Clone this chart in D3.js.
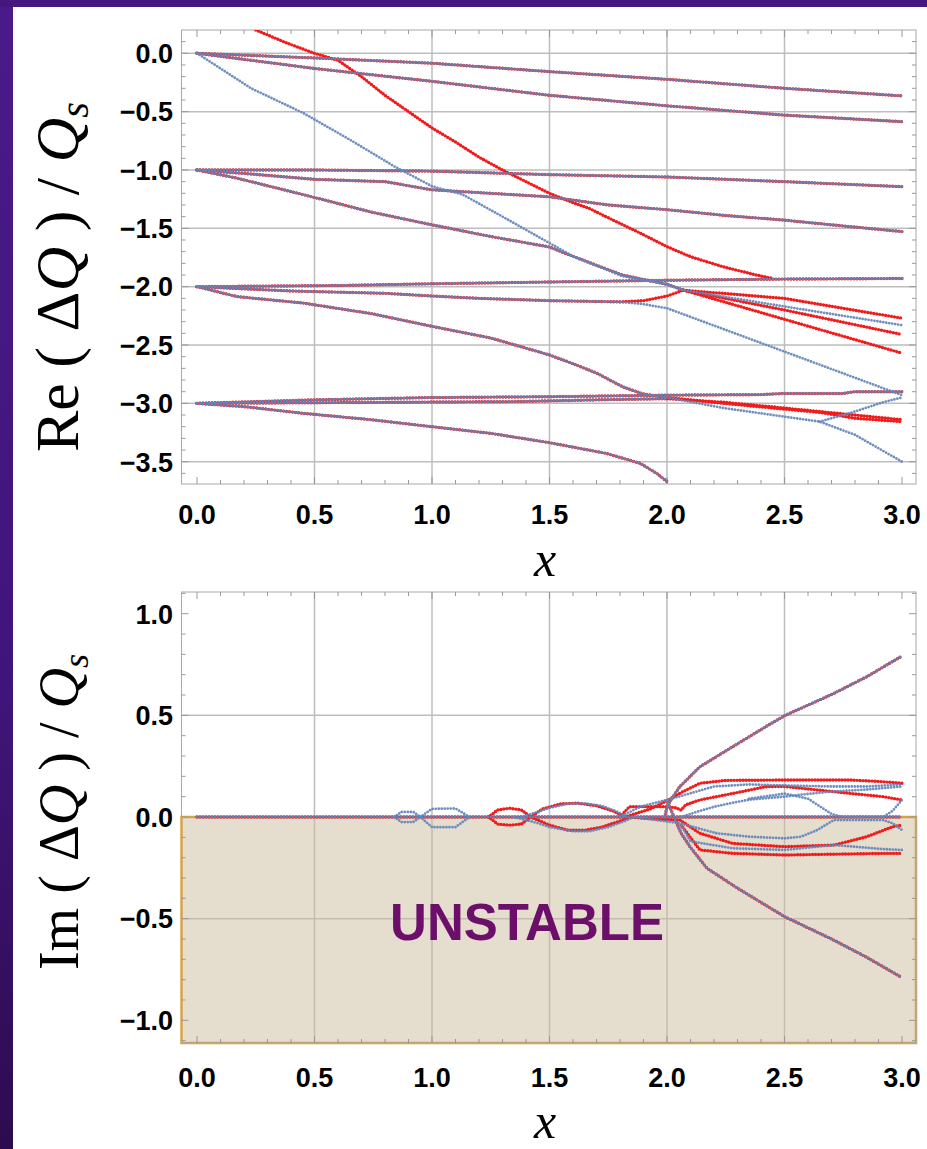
<!DOCTYPE html>
<html>
<head>
<meta charset="utf-8">
<script src="https://cdn.jsdelivr.net/npm/d3@7"></script>
<style>
  body { margin: 0; background: #fff; }
  svg { display: block; }
</style>
</head>
<body>
<svg id="chart" width="927" height="1149"></svg>
<script>
// ---------- axis ticks ----------
const xTicks = [0, 0.5, 1, 1.5, 2, 2.5, 3];
const xGrid = [0.5, 1, 1.5, 2, 2.5];
const reTicks = [0, -0.5, -1, -1.5, -2, -2.5, -3, -3.5];
const reGrid = [0, -0.5, -1, -1.5, -2, -2.5, -3, -3.5];
const imTicks = [1, 0.5, 0, -0.5, -1];
const imGrid = [0.5, 0, -0.5];

// ---------- Re(ΔQ)/Qs : curves common to both models ----------
const reShared = [
  [[0,0],[0.5,-0.04],[1,-0.085],[1.5,-0.157],[2,-0.223],[2.5,-0.30],[3,-0.365]],
  [[0,0],[0.5,-0.13],[1,-0.24],[1.5,-0.36],[2,-0.45],[2.5,-0.53],[3,-0.586]],
  [[0,-1],[0.5,-1.0],[1,-1.01],[1.5,-1.04],[2,-1.06],[2.5,-1.10],[3,-1.143]],
  [[0,-1],[0.2,-1.03],[0.5,-1.08],[0.8,-1.1],[1,-1.17],[1.5,-1.23],[1.75,-1.3],[2,-1.34],[2.25,-1.39],[2.5,-1.43],[2.7,-1.47],[3,-1.528]],
  [[0,-1],[0.17,-1.07],[0.45,-1.21],[0.74,-1.36],[1,-1.47],[1.25,-1.57],[1.5,-1.66],[1.6,-1.74],[1.81,-1.9],[2,-1.98],[2.07,-2.03]],
  [[0,-2],[0.6,-1.99],[1,-1.975],[1.5,-1.96],[2,-1.945],[2.5,-1.935],[3,-1.93]],
  [[0,-2],[0.4,-2.037],[0.8,-2.057],[1,-2.08],[1.2,-2.1],[1.5,-2.12],[1.8,-2.13]],
  [[0,-2],[0.17,-2.085],[0.45,-2.14],[0.74,-2.23],[1,-2.34],[1.25,-2.44],[1.5,-2.585],[1.6,-2.66],[1.7,-2.74],[1.81,-2.857],[1.9,-2.92],[2,-2.95]],
  [[0,-3],[0.5,-2.97],[1,-2.95],[1.5,-2.943],[2,-2.93],[2.4,-2.925],[2.5,-2.915],[2.75,-2.915],[2.8,-2.9],[3,-2.9]],
  [[0,-3],[1.35,-2.985],[1.7,-2.97],[2,-2.96]],
  [[0,-3],[0.21,-3.03],[0.45,-3.085],[0.74,-3.14],[1,-3.2],[1.25,-3.257],[1.5,-3.337],[1.74,-3.428],[1.885,-3.513],[1.956,-3.6],[2,-3.67]]
];
// branches seen only in the red model
const reRed = [
  [[0.25,0.2],[0.38,0.09],[0.5,0],[0.6,-0.06],[0.7,-0.2],[0.8,-0.36],[0.9,-0.5],[1,-0.64],[1.1,-0.76],[1.2,-0.89],[1.3,-1],[1.4,-1.1],[1.5,-1.2],[1.6,-1.28],[1.67,-1.33],[1.74,-1.4],[1.885,-1.54],[2,-1.657],[2.1,-1.743],[2.24,-1.83],[2.38,-1.9],[2.45,-1.93]],
  [[1.8,-2.13],[1.9,-2.12],[2,-2.08],[2.07,-2.03],[2.5,-2.2],[3,-2.41]],
  [[2.07,-2.03],[2.5,-2.1],[3,-2.27]],
  [[2.07,-2.03],[2.5,-2.28],[3,-2.57]],
  [[2,-2.95],[2.24,-3.0],[2.45,-3.04],[2.66,-3.08],[2.8,-3.128],[3,-3.157]],
  [[2,-2.96],[2.24,-2.99],[2.45,-3.03],[2.8,-3.1],[3,-3.14]]
];
// branches seen only in the blue model
const reBlue = [
  [[0,0],[0.23,-0.3],[0.45,-0.51],[0.65,-0.74],[0.84,-0.97],[1,-1.14],[1.13,-1.21],[1.3,-1.4],[1.45,-1.57],[1.6,-1.74],[1.81,-1.91],[2,-1.98],[2.07,-2.03],[2.5,-2.17],[3,-2.33]],
  [[1.8,-2.13],[1.9,-2.15],[2,-2.185],[2.5,-2.557],[3,-2.93]],
  [[2,-2.95],[2.24,-3.04],[2.45,-3.1],[2.65,-3.157],[2.8,-3.27],[3,-3.5]],
  [[2.65,-3.157],[2.8,-3.07],[2.92,-2.99],[3,-2.95]]
];

// ---------- Im(ΔQ)/Qs ----------
const imShared = [
  [[0,0],[3,0]],
  [[1.99,0],[2.0,0.05],[2.02,0.09],[2.055,0.15],[2.14,0.247],[2.28,0.346],[2.42,0.444],[2.5,0.498],[2.71,0.608],[2.85,0.69],[3,0.792]],
  [[2.0,0.08],[2.03,0],[2.06,-0.08],[2.1,-0.15],[2.17,-0.252],[2.3,-0.35],[2.5,-0.49],[2.7,-0.6],[2.85,-0.69],[3,-0.79]]
];
const imRed = [
  [[1.24,0],[1.28,0.035],[1.33,0.043],[1.38,0.035],[1.42,0]],
  [[1.24,0],[1.28,-0.035],[1.33,-0.04],[1.38,-0.035],[1.42,0]],
  [[1.42,0],[1.47,0.04],[1.55,0.065],[1.62,0.068],[1.7,0.055],[1.77,0.03],[1.82,0]],
  [[1.42,0],[1.5,-0.04],[1.58,-0.065],[1.65,-0.065],[1.72,-0.05],[1.8,-0.02],[1.84,0]],
  [[1.82,0],[1.93,0.04],[2.0,0.08],[2.06,0.12],[2.14,0.166],[2.25,0.18],[2.5,0.182],[2.78,0.182],[2.9,0.175],[3,0.166]],
  [[1.8,0],[1.84,0.051],[2.0,0.051],[2.04,0.045],[2.06,0.034],[2.08,0.06],[2.14,0.084],[2.28,0.116],[2.42,0.149],[2.5,0.15],[2.64,0.133],[2.78,0.116],[2.92,0.1],[3,0.084]],
  [[1.84,0],[1.95,-0.01],[2.055,-0.015],[2.14,-0.08],[2.28,-0.13],[2.5,-0.146],[2.71,-0.138],[2.85,-0.097],[2.96,-0.048],[3,-0.04]],
  [[2.06,-0.04],[2.14,-0.162],[2.28,-0.179],[2.5,-0.187],[2.71,-0.183],[2.92,-0.179],[3,-0.179]]
];
const imBlue = [
  [[0.84,0],[0.87,0.025],[0.92,0.025],[0.95,0]],
  [[0.84,0],[0.87,-0.025],[0.92,-0.025],[0.95,0]],
  [[0.95,0],[1.0,0.04],[1.1,0.042],[1.16,0]],
  [[0.95,0],[1.0,-0.05],[1.1,-0.05],[1.16,0]],
  [[1.38,0],[1.45,0.025],[1.5,0.045],[1.58,0.065],[1.65,0.067],[1.72,0.055],[1.78,0.03],[1.83,0]],
  [[1.35,0],[1.45,-0.03],[1.5,-0.05],[1.6,-0.07],[1.67,-0.07],[1.75,-0.05],[1.82,-0.02],[1.86,0]],
  [[1.8,0],[1.885,0.05],[2.0,0.084],[2.05,0.1],[2.14,0.13],[2.2,0.15],[2.35,0.16],[2.5,0.155],[2.7,0.15],[2.85,0.15],[3,0.16]],
  [[2.06,0],[2.14,0.03],[2.2,0.05],[2.28,0.07],[2.35,0.085],[2.5,0.1],[2.57,0.11],[2.7,0.125],[2.85,0.135],[3,0.15]],
  [[2.35,0.09],[2.5,0.115],[2.6,0.09],[2.7,0.015],[2.75,0],[2.92,0],[2.96,0.03],[3,0.084]],
  [[1.86,0],[2.055,-0.031],[2.21,-0.08],[2.35,-0.097],[2.5,-0.105],[2.57,-0.097],[2.64,-0.064],[2.71,-0.015],[2.92,-0.015],[2.96,-0.031],[3,-0.064]],
  [[2.06,-0.04],[2.1,-0.12],[2.28,-0.154],[2.5,-0.162],[2.71,-0.138],[2.92,-0.158],[3,-0.162]]
];

// ---------- drawing ----------
const W = 927, H = 1149;
const svg = d3.select("#chart");
const defs = svg.append("defs");

const band = defs.append("linearGradient").attr("id", "band")
  .attr("x1", 0).attr("y1", 0).attr("x2", 0).attr("y2", 1);
band.append("stop").attr("offset", "0%").attr("stop-color", "#4a1a8a");
band.append("stop").attr("offset", "60%").attr("stop-color", "#40157a");
band.append("stop").attr("offset", "100%").attr("stop-color", "#2c0c50");
svg.append("rect").attr("x", 0).attr("y", 0).attr("width", 13).attr("height", H).attr("fill", "url(#band)");
svg.append("rect").attr("x", 0).attr("y", 0).attr("width", W).attr("height", 7).attr("fill", "#47177f");

const x = d3.scaleLinear().domain([0, 3]).range([197, 902]);
const frameL = 181.5, frameR = 916;
const fmt = d3.format(".1f");

function range01(a, b, step) {
  const out = [];
  for (let i = Math.round(a / step); i <= Math.round(b / step); i++) out.push(+(i * step).toFixed(2));
  return out;
}

function panel(o) {
  const y = d3.scaleLinear().domain(o.yDom).range(o.yRange);
  const g = svg.append("g");
  const clipId = "clip" + o.id;
  defs.append("clipPath").attr("id", clipId).append("rect")
    .attr("x", frameL).attr("y", o.top).attr("width", frameR - frameL).attr("height", o.bottom - o.top);

  // grid
  g.selectAll(".gx").data(xGrid).join("line")
    .attr("x1", d => x(d)).attr("x2", d => x(d)).attr("y1", o.top).attr("y2", o.bottom)
    .attr("stroke", "#bdbdbd").attr("stroke-width", 1.5);
  g.selectAll(".gy").data(o.yGrid).join("line")
    .attr("x1", frameL).attr("x2", frameR).attr("y1", d => y(d)).attr("y2", d => y(d))
    .attr("stroke", "#bdbdbd").attr("stroke-width", 1.5);

  // unstable band
  if (o.unstable) {
    g.append("rect").attr("x", frameL).attr("y", y(0))
      .attr("width", frameR - frameL).attr("height", o.bottom - y(0))
      .attr("fill", "#cbbc9c").attr("fill-opacity", 0.5)
      .attr("stroke", "#d6a248").attr("stroke-width", 2.5);
  }

  // frame
  g.append("rect").attr("x", frameL).attr("y", o.top).attr("width", frameR - frameL).attr("height", o.bottom - o.top)
    .attr("fill", "none").attr("stroke", "#a8a8a8").attr("stroke-width", 1);

  // ticks (inward, all four sides)
  const xMin = range01(0, 3, 0.1);
  xMin.forEach(v => {
    const major = Math.abs(v * 2 - Math.round(v * 2)) < 1e-6;
    const len = major ? 7 : 4;
    g.append("line").attr("x1", x(v)).attr("x2", x(v)).attr("y1", o.bottom).attr("y2", o.bottom - len).attr("stroke", "#999");
    g.append("line").attr("x1", x(v)).attr("x2", x(v)).attr("y1", o.top).attr("y2", o.top + len).attr("stroke", "#999");
  });
  const yMin = range01(o.yMinorFrom, o.yMinorTo, 0.1);
  yMin.forEach(v => {
    const major = Math.abs(v * 2 - Math.round(v * 2)) < 1e-6;
    const len = major ? 7 : 4;
    g.append("line").attr("y1", y(v)).attr("y2", y(v)).attr("x1", frameL).attr("x2", frameL + len).attr("stroke", "#999");
    g.append("line").attr("y1", y(v)).attr("y2", y(v)).attr("x1", frameR).attr("x2", frameR - len).attr("stroke", "#999");
  });

  // tick labels
  g.selectAll(".xl").data(xTicks).join("text")
    .attr("x", d => x(d)).attr("y", o.xLabelY).attr("text-anchor", "middle")
    .attr("font-family", "Liberation Sans, Arial, sans-serif").attr("font-weight", "bold").attr("font-size", 27)
    .text(d => fmt(d));
  g.selectAll(".yl").data(o.yTicks).join("text")
    .attr("x", 173).attr("y", d => y(d) + 9.8).attr("text-anchor", "end")
    .attr("font-family", "Liberation Sans, Arial, sans-serif").attr("font-weight", "bold").attr("font-size", 27)
    .text(d => fmt(d));

  // data: red model under blue model, each as dotted traces
  const line = d3.line().x(d => x(d[0])).y(d => y(d[1]));
  const pts = g.append("g").attr("clip-path", `url(#${clipId})`);
  const dotted = (sel, color, w, op) => sel
    .attr("d", line).attr("fill", "none").attr("stroke", color).attr("stroke-width", w)
    .attr("stroke-linecap", "round").attr("stroke-dasharray", "0 3").attr("stroke-opacity", op);
  const reds = o.shared.concat(o.red);
  const blues = o.shared.concat(o.blue);
  pts.selectAll(".r").data(reds).join("path").call(dotted, "#f21b1b", 3.4, 1);
  pts.selectAll(".b").data(blues).join("path").call(dotted, "#6386bb", 2.8, 0.92);

  // axis titles
  const t = svg.append("text")
    .attr("transform", `translate(78,${o.titleY}) rotate(-90)`)
    .attr("text-anchor", "middle")
    .attr("font-family", "Liberation Serif, Times New Roman, serif").attr("font-size", o.titleSize);
  t.append("tspan").text(o.titleFn + " ( Δ");
  t.append("tspan").attr("font-style", "italic").text("Q");
  t.append("tspan").text(" ) / ");
  t.append("tspan").attr("font-style", "italic").text("Q");
  t.append("tspan").attr("font-style", "italic").attr("font-size", o.titleSize * 0.65).attr("dy", 10).text("s");

  svg.append("text").attr("x", 545).attr("y", o.xTitleY).attr("text-anchor", "middle")
    .attr("font-family", "Liberation Serif, Times New Roman, serif").attr("font-style", "italic").attr("font-size", 50)
    .text("x");
  return y;
}

panel({
  id: "re", top: 30, bottom: 484, yDom: [0, -3.5], yRange: [53.3, 461.7],
  yTicks: reTicks, yGrid: reGrid, yMinorFrom: -3.6, yMinorTo: 0.1,
  shared: reShared, red: reRed, blue: reBlue,
  xLabelY: 524, xTitleY: 576, titleY: 277, titleSize: 62, titleFn: "Re"
});

panel({
  id: "im", top: 592, bottom: 1043, yDom: [1, -1], yRange: [613.7, 1020.3],
  yTicks: imTicks, yGrid: imGrid, yMinorFrom: -1.1, yMinorTo: 1.1,
  shared: imShared, red: imRed, blue: imBlue, unstable: true,
  xLabelY: 1087, xTitleY: 1138, titleY: 812, titleSize: 56, titleFn: "Im"
});

svg.append("text").attr("x", 527).attr("y", 940).attr("text-anchor", "middle")
  .attr("font-family", "Liberation Sans, Arial, sans-serif").attr("font-weight", "bold").attr("font-size", 51)
  .attr("fill", "#6b0f6b").text("UNSTABLE");
</script>
</body>
</html>
